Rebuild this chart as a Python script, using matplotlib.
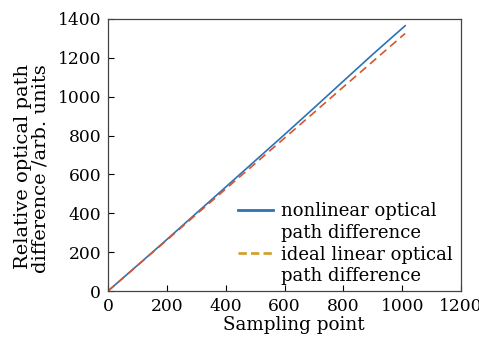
import numpy as np
import matplotlib.pyplot as plt
from matplotlib.lines import Line2D

plt.rcParams['font.family'] = 'DejaVu Serif'

samples = [0, 100, 200, 300, 400, 500, 600, 700, 800, 900, 1010]
nonlinear_opd = [0, 132, 265, 400, 535, 670, 805, 942, 1080, 1218, 1365]
ideal_opd = [0, 131, 262, 394, 525, 656, 787, 918, 1050, 1181, 1325]

blue = '#2a73b5'
red = '#d9552b'
gold = '#d4a032'

fig = plt.figure(figsize=(4.79, 3.38), dpi=100)
ax = fig.add_axes([0.2255, 0.139, 0.737, 0.805])

ax.plot(samples, nonlinear_opd, color=blue, lw=1.2)
ax.plot(samples, ideal_opd, color=red, lw=1.2, ls=(0, (5, 3)))

ax.set_xlim(0, 1200)
ax.set_ylim(0, 1400)
ax.set_xticks(np.arange(0, 1201, 200))
ax.set_yticks(np.arange(0, 1401, 200))
ax.tick_params(direction='in', labelsize=12.3, length=4, width=0.8, pad=5)
for s in ax.spines.values():
    s.set_linewidth(0.9)
    s.set_color('#444444')

ax.set_xlabel('Sampling point', fontsize=13.2)
ax.xaxis.set_label_coords(0.527, -0.09)
ax.set_ylabel('Relative optical path\ndifference /arb. units', fontsize=14,
              linespacing=0.95, multialignment='right')
ax.yaxis.set_label_coords(-0.165, 0.45)

# legend: handle sits on the first line of each two-line label
blank = Line2D([], [], color='none')
handles = [Line2D([], [], color=blue, lw=2), blank,
           Line2D([], [], color=gold, lw=2, ls=(0, (3, 1.5))), blank]
labels = ['nonlinear optical', 'path difference',
          'ideal linear optical', 'path difference']
leg = ax.legend(handles, labels, loc='lower right', bbox_to_anchor=(1.012, -0.025),
                frameon=False, fontsize=13.0, handlelength=1.9, handletextpad=0.45,
                labelspacing=0.2, borderaxespad=0.3)

fig.savefig('out.png', dpi=100)
